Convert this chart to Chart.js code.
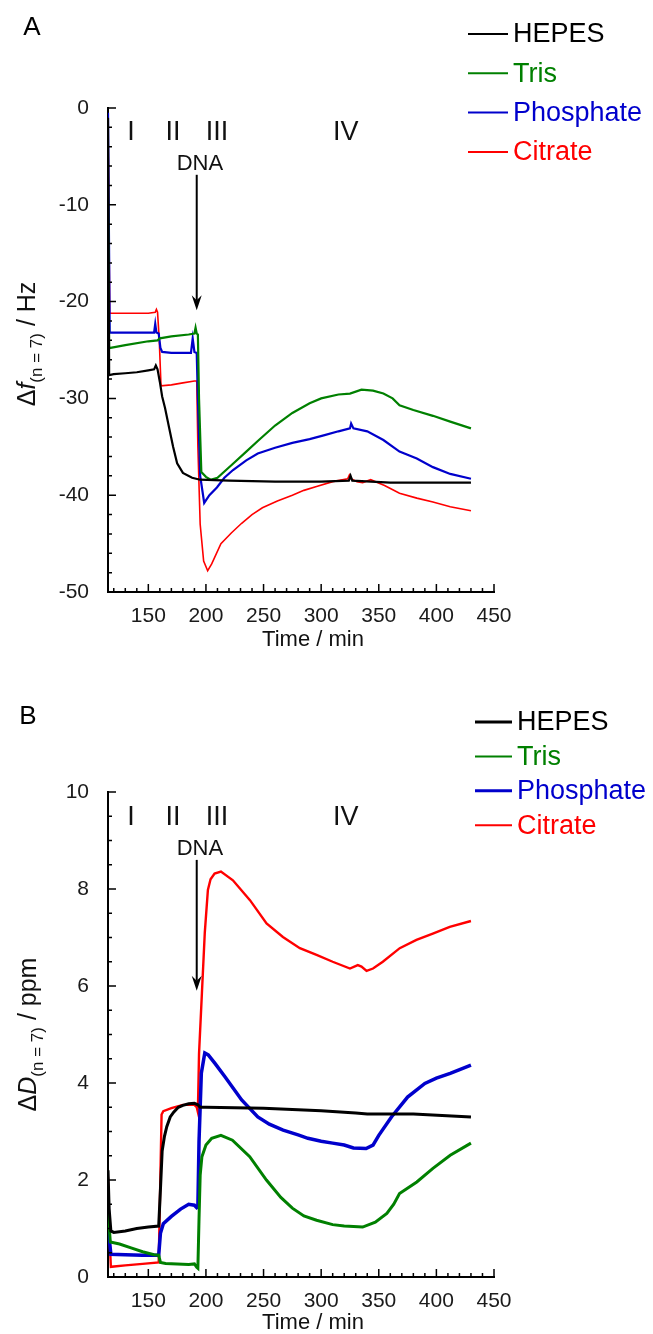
<!DOCTYPE html>
<html>
<head>
<meta charset="utf-8">
<title>QCM-D Δf / ΔD</title>
<script src="https://cdn.jsdelivr.net/npm/chart.js@4.4.0/dist/chart.umd.min.js"></script>
<style>
    body { margin: 0; background: #fff; }
    canvas { display: block; }
</style>
</head>
<body>
<canvas id="chartA" width="653" height="660"></canvas>
<canvas id="chartB" width="653" height="674"></canvas>

<script>
// ---- data ----
const seriesNames = ['HEPES', 'Tris', 'Phosphate', 'Citrate'];
const seriesColors = ['#000000', '#008000', '#0000cc', '#ff0000'];

const xTicks = [150, 200, 250, 300, 350, 400, 450];
const yTicksA = [-50, -40, -30, -20, -10, 0];
const yTicksB = [0, 2, 4, 6, 8, 10];
const phaseLabels = ['I', 'II', 'III', 'IV'];
const phaseTimes = [135, 171.4, 209.5, 321.4];

// panel A: frequency shift (Hz)
const hepesA_t = [115, 116, 120, 130, 140, 150, 155, 156.5, 158, 160, 162, 164.5, 168, 171.5, 175, 180, 188, 195, 220, 260, 300, 324, 325.5, 327, 360, 400, 430];
const hepesA_f = [-1, -27.6, -27.5, -27.4, -27.3, -27.1, -27.0, -26.6, -27.0, -28.3, -29.8, -31.0, -33.0, -35.0, -36.7, -37.7, -38.2, -38.4, -38.5, -38.6, -38.6, -38.5, -38.0, -38.5, -38.7, -38.7, -38.7];

const trisA_t = [115, 116, 130, 150, 158, 160, 170, 185, 190, 191, 192, 193, 194, 196, 200, 204, 210, 223, 235, 245, 260, 275, 290, 300, 315, 325, 335, 345, 354, 362, 368, 380, 397, 412, 430];
const trisA_f = [-8, -24.8, -24.5, -24.1, -24.0, -23.8, -23.6, -23.4, -23.3, -22.7, -23.3, -23.4, -30, -37.6, -38.1, -38.4, -38.2, -36.8, -35.5, -34.4, -32.8, -31.5, -30.5, -30.0, -29.6, -29.5, -29.1, -29.2, -29.5, -30.0, -30.7, -31.2, -31.8, -32.4, -33.1];

const phosA_t = [115, 116.5, 130, 150, 155, 156, 157, 159, 160.5, 162, 170, 180, 187, 188.5, 190, 192, 193, 195, 198.5, 203, 209.5, 216, 223.5, 235, 245, 260, 275, 290, 303, 315, 325, 326, 328, 340, 354, 368, 383, 397, 412, 430];
const phosA_f = [-0.5, -23.2, -23.2, -23.2, -23.2, -22.3, -23.2, -23.3, -24.8, -25.2, -25.3, -25.3, -25.3, -23.8, -25.2, -25.3, -30, -38, -40.8, -40.0, -39.2, -38.2, -37.4, -36.4, -35.7, -35.1, -34.6, -34.2, -33.8, -33.4, -33.1, -32.6, -33.1, -33.4, -34.3, -35.5, -36.2, -37.1, -37.8, -38.3];

const citA_t = [115, 116.5, 130, 150, 156, 157, 158, 159.5, 161, 170, 180, 190, 192, 193, 195, 198, 201.5, 205, 213, 222, 231, 240, 249, 262, 275, 285, 296, 310, 323, 324.5, 326, 331, 336, 343, 355, 368, 383, 397, 412, 430];
const citA_f = [-1.5, -21.2, -21.2, -21.2, -21.1, -20.8, -21.1, -24, -28.7, -28.6, -28.4, -28.2, -28.2, -35, -43, -46.8, -47.8, -47.1, -45.0, -43.9, -42.9, -42.0, -41.3, -40.6, -40.0, -39.5, -39.1, -38.6, -38.3, -37.9, -38.3, -38.6, -38.7, -38.4, -39.0, -39.8, -40.3, -40.7, -41.2, -41.6];

// panel B: dissipation shift (ppm)
const hepesB_t = [115, 116, 117.5, 120, 130, 140, 150, 159, 160.5, 162, 164, 166, 169, 172, 176, 180, 185, 190, 193, 195, 200, 250, 300, 330, 340, 380, 430];
const hepesB_d = [2.2, 1.4, 0.95, 0.92, 0.95, 1.0, 1.03, 1.05, 1.8, 2.6, 2.9, 3.1, 3.3, 3.4, 3.5, 3.54, 3.57, 3.58, 3.55, 3.5, 3.5, 3.48, 3.43, 3.38, 3.36, 3.36, 3.3];

const trisB_t = [115, 117, 125, 135, 145, 155, 159, 160.5, 165, 175, 185, 190, 192, 193, 194, 195, 196.5, 200, 205, 213, 223, 238, 252.5, 265, 275, 285, 296, 310, 320, 336, 347, 357, 363, 368, 383, 397, 412, 430];
const trisB_d = [1.4, 0.72, 0.68, 0.6, 0.52, 0.46, 0.45, 0.3, 0.28, 0.27, 0.26, 0.27, 0.2, 0.18, 1.2, 2.1, 2.48, 2.72, 2.86, 2.92, 2.82, 2.48, 2.0, 1.64, 1.42, 1.26, 1.17, 1.08, 1.05, 1.03, 1.13, 1.31, 1.5, 1.72, 1.96, 2.24, 2.51, 2.76];

const phosB_t = [115, 116, 117.5, 130, 145, 159, 160.5, 163, 170, 178, 185, 190, 192, 193, 194, 196, 199, 202, 208, 216.5, 231, 245, 255, 267, 280, 288.5, 300, 310, 320, 328, 339, 345, 350, 361, 375, 390, 400, 412, 430];
const phosB_d = [1.6, 0.8, 0.47, 0.46, 0.45, 0.45, 0.9, 1.1, 1.25, 1.4, 1.5, 1.48, 1.43, 1.45, 2.8, 4.2, 4.62, 4.58, 4.4, 4.13, 3.65, 3.3, 3.15, 3.03, 2.93, 2.86, 2.8, 2.76, 2.72, 2.66, 2.65, 2.72, 2.92, 3.3, 3.71, 3.99, 4.1, 4.2, 4.37];

const citB_t = [115, 116, 117.5, 130, 145, 159, 160, 161.5, 163, 170, 180, 190, 192, 193, 194, 196.5, 199, 201.7, 204, 207.5, 213, 223.4, 238.2, 252.6, 266.8, 281.5, 296, 310, 325, 331.8, 335, 339.4, 345, 353.5, 368.2, 382.7, 396.9, 411.6, 430];
const citB_d = [2.05, 1.0, 0.21, 0.24, 0.27, 0.3, 1.5, 3.35, 3.42, 3.48, 3.55, 3.55, 3.5, 3.4, 4.6, 5.85, 7.1, 7.98, 8.2, 8.32, 8.36, 8.18, 7.77, 7.29, 7.01, 6.78, 6.64, 6.5, 6.36, 6.43, 6.4, 6.31, 6.36, 6.5, 6.78, 6.95, 7.08, 7.22, 7.34];

// ---- drawing ----
const FONT = '"Liberation Sans", Arial, sans-serif';

function zip(t, v) {
    return t.map((x, i) => ({ x: x, y: v[i] }));
}

function isMultiple(v, step) {
    const q = v / step;
    return Math.abs(q - Math.round(q)) < 1e-6;
}

// axes ticks (inward), legend, labels, arrow
const decoPlugin = {
    id: 'deco',
    afterDraw(chart, args, o) {
        const ctx = chart.ctx;
        const xs = chart.scales.x, ys = chart.scales.y;
        const a = chart.chartArea;
        ctx.save();

        // tick marks
        ctx.strokeStyle = '#000';
        ctx.lineWidth = 1.5;
        ctx.beginPath();
        for (let v = 120; v <= 450; v += 10) {
            const px = xs.getPixelForValue(v);
            const len = isMultiple(v, 50) ? 8 : 4;
            ctx.moveTo(px, a.bottom);
            ctx.lineTo(px, a.bottom - len);
        }
        for (let v = ys.min; v <= ys.max + 1e-6; v += o.yMinor) {
            const py = ys.getPixelForValue(v);
            const len = isMultiple(v, o.yMajor) ? 8 : 4;
            ctx.moveTo(a.left, py);
            ctx.lineTo(a.left + len, py);
        }
        ctx.stroke();

        // panel letter
        ctx.fillStyle = '#000';
        ctx.font = '26px ' + FONT;
        ctx.textAlign = 'center';
        ctx.textBaseline = 'middle';
        ctx.fillText(o.letter, o.letterX, o.letterY);

        // legend
        chart.data.datasets.forEach((ds, i) => {
            const y = o.legY + i * o.legDy;
            ctx.strokeStyle = ds.borderColor;
            ctx.lineWidth = o.legWidths[i];
            ctx.beginPath();
            ctx.moveTo(o.legX0, y);
            ctx.lineTo(o.legX1, y);
            ctx.stroke();
            ctx.fillStyle = ds.borderColor;
            ctx.font = '27px ' + FONT;
            ctx.textAlign = 'left';
            ctx.fillText(ds.label, o.legX1 + 5, y + 1);
        });

        // phase numerals
        ctx.fillStyle = '#111';
        ctx.font = '27px ' + FONT;
        ctx.textAlign = 'center';
        phaseLabels.forEach((lab, i) => {
            ctx.fillText(lab, xs.getPixelForValue(phaseTimes[i]), ys.getPixelForValue(o.phaseY));
        });

        // DNA arrow
        ctx.font = '22px ' + FONT;
        ctx.fillText('DNA', xs.getPixelForValue(194.8), ys.getPixelForValue(o.dnaY));
        const ax = xs.getPixelForValue(192);
        const ay0 = ys.getPixelForValue(o.arrowTop);
        const ay1 = ys.getPixelForValue(o.arrowTip);
        ctx.strokeStyle = '#000';
        ctx.lineWidth = 2;
        ctx.beginPath();
        ctx.moveTo(ax, ay0);
        ctx.lineTo(ax, ay1 - 10);
        ctx.stroke();
        ctx.fillStyle = '#000';
        ctx.beginPath();
        ctx.moveTo(ax, ay1);
        ctx.lineTo(ax - 5, ay1 - 15);
        ctx.lineTo(ax, ay1 - 10);
        ctx.lineTo(ax + 5, ay1 - 15);
        ctx.closePath();
        ctx.fill();

        // x title
        ctx.fillStyle = '#111';
        ctx.font = '22px ' + FONT;
        ctx.textAlign = 'center';
        ctx.fillText('Time / min', (a.left + a.right) / 2 + 12, a.bottom + o.xTitleDy);

        // y title with italic symbol and subscript
        const pieces = [
            { t: 'Δ', f: '25px ' + FONT, dy: 0 },
            { t: o.symbol, f: 'italic 25px ' + FONT, dy: 0 },
            { t: '(n = 7)', f: '17px ' + FONT, dy: 7 },
            { t: ' / ' + o.unit, f: '25px ' + FONT, dy: 0 }
        ];
        let total = 0;
        pieces.forEach(p => { ctx.font = p.f; p.w = ctx.measureText(p.t).width; total += p.w; });
        ctx.translate(o.yTitleX, (a.top + a.bottom) / 2 + o.yTitleDy);
        ctx.rotate(-Math.PI / 2);
        ctx.textAlign = 'left';
        ctx.textBaseline = 'alphabetic';
        let cx = -total / 2;
        pieces.forEach(p => {
            ctx.font = p.f;
            ctx.fillText(p.t, cx, p.dy);
            cx += p.w;
        });
        ctx.restore();
    }
};

function makeChart(id, sets, widths, yMin, yMax, yTicks, layout, deco) {
    const datasets = sets.map((s, i) => ({
        label: seriesNames[i],
        data: zip(s[0], s[1]),
        borderColor: seriesColors[i],
        borderWidth: widths[i],
        pointRadius: 0,
        showLine: true,
        fill: false,
        tension: 0
    }));
    return new Chart(document.getElementById(id), {
        type: 'scatter',
        data: { datasets: datasets },
        plugins: [decoPlugin],
        options: {
            responsive: false,
            animation: false,
            events: [],
            layout: { padding: { top: layout.top, right: layout.right, bottom: 0, left: 0 } },
            plugins: { legend: { display: false }, tooltip: { enabled: false }, deco: deco },
            scales: {
                x: {
                    type: 'linear', min: 115, max: 450,
                    afterBuildTicks: s => { s.ticks = xTicks.map(v => ({ value: v })); },
                    afterFit: s => { s.height = layout.xHeight; },
                    grid: { display: false },
                    border: { display: true, color: '#000', width: 2 },
                    ticks: { color: '#1a1a1a', font: { family: FONT, size: 21 }, padding: 4, maxRotation: 0, autoSkip: false }
                },
                y: {
                    type: 'linear', min: yMin, max: yMax,
                    afterBuildTicks: s => { s.ticks = yTicks.map(v => ({ value: v })); },
                    afterFit: s => { s.width = 108; },
                    grid: { display: false },
                    border: { display: true, color: '#000', width: 2 },
                    ticks: { color: '#1a1a1a', font: { family: FONT, size: 21 }, padding: 11, autoSkip: false }
                }
            }
        }
    });
}

makeChart('chartA',
    [[hepesA_t, hepesA_f], [trisA_t, trisA_f], [phosA_t, phosA_f], [citA_t, citA_f]],
    [2.2, 2.2, 2.2, 1.6], -50, 0, yTicksA,
    { top: 108, right: 159, xHeight: 68 },
    {
        yMinor: 2, yMajor: 10, letter: 'A', letterX: 32, letterY: 28,
        legX0: 468, legX1: 508, legY: 34, legDy: 39.3, legWidths: [2, 2, 2, 2],
        phaseY: -2.5, dnaY: -5.8, arrowTop: -6.9, arrowTip: -20.9,
        xTitleDy: 48, symbol: 'f', unit: 'Hz', yTitleX: 35, yTitleDy: -6
    });

makeChart('chartB',
    [[hepesB_t, hepesB_d], [trisB_t, trisB_d], [phosB_t, phosB_d], [citB_t, citB_d]],
    [3, 3, 3.5, 2.4], 0, 10, yTicksB,
    { top: 132, right: 159, xHeight: 57 },
    {
        yMinor: 0.5, yMajor: 2, letter: 'B', letterX: 28, letterY: 57,
        legX0: 475, legX1: 512, legY: 62, legDy: 34.4, legWidths: [3, 2, 3, 2],
        phaseY: 9.48, dnaY: 8.82, arrowTop: 8.6, arrowTip: 5.9,
        xTitleDy: 46, symbol: 'D', unit: 'ppm', yTitleX: 36, yTitleDy: 0
    });
</script>
</body>
</html>
